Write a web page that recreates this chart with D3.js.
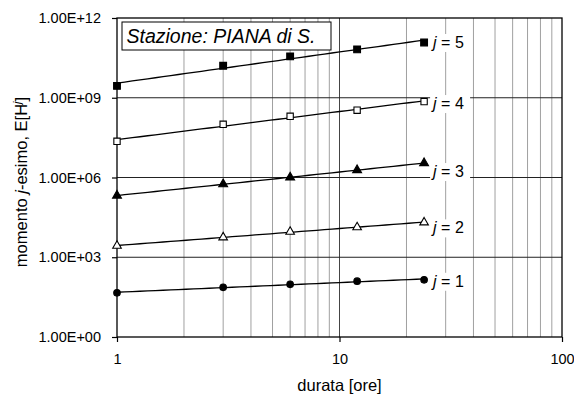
<!DOCTYPE html>
<html><head><meta charset="utf-8">
<script src="https://cdn.jsdelivr.net/npm/d3@7"></script>
<style>body{margin:0;background:#fff}svg{display:block;font-family:"Liberation Sans",Arial,sans-serif}</style>
</head><body><svg id="c" width="574" height="399"></svg>
<script>
// durations (hours)
const durations = [1, 3, 6, 12, 24];
// j-th order moments of rainfall height
const moment1 = [46, 74, 96, 126, 142];
const moment2 = [2700, 5600, 9100, 13500, 20500];
const moment3 = [2.1e5, 5.6e5, 1.0e6, 1.9e6, 3.5e6];
const moment4 = [2.3e7, 1.0e8, 2.0e8, 3.4e8, 7.2e8];
const moment5 = [2.8e9, 1.6e10, 3.6e10, 6.6e10, 1.2e11];
const orders = [1, 2, 3, 4, 5];
const yTickLabels = ["1.00E+00", "1.00E+03", "1.00E+06", "1.00E+09", "1.00E+12"];
const xTickLabels = ["1", "10", "100"];

// baseline shift of each order label relative to its last point (px)
const labelShift = {1: 7, 2: 11, 3: 14, 4: 7.5, 5: 5.5};

const FONT = "Liberation Sans, Arial, sans-serif";
const series = [
  {j: 1, v: moment1, shape: d3.symbolCircle, size: 34, fill: "#000"},
  {j: 2, v: moment2, shape: d3.symbolTriangle, size: 32, fill: "#fff"},
  {j: 3, v: moment3, shape: d3.symbolTriangle, size: 34, fill: "#000"},
  {j: 4, v: moment4, shape: d3.symbolSquare, size: 40, fill: "#fff"},
  {j: 5, v: moment5, shape: d3.symbolSquare, size: 46, fill: "#000"}
];

const svg = d3.select("#c");
const L = 117, R = 562, T = 18, B = 337;
const x = d3.scaleLog().domain([1, 100]).range([L, R]);
const y = d3.scaleLog().domain([1, 1e12]).range([B, T]);

// vertical grid: minor lines in grey, decade line darker
const minor = [];
for (let d = 1; d < 100; d *= 10) for (let k = 2; k <= 9; k++) minor.push(d * k);
svg.append("g").selectAll("line").data(minor).join("line")
  .attr("x1", d => x(d)).attr("x2", d => x(d)).attr("y1", T).attr("y2", B)
  .attr("stroke", "#a0a0a0").attr("stroke-width", 1);
svg.append("line").attr("x1", x(10)).attr("x2", x(10)).attr("y1", T).attr("y2", B)
  .attr("stroke", "#444").attr("stroke-width", 1);

// horizontal grid at the labelled decades
const yTicks = yTickLabels.map(Number);
svg.append("g").selectAll("line").data(yTicks.slice(1, -1)).join("line")
  .attr("x1", L).attr("x2", R).attr("y1", d => y(d)).attr("y2", d => y(d))
  .attr("stroke", "#222").attr("stroke-width", 1);

// plot frame
svg.append("rect").attr("x", L).attr("y", T).attr("width", R - L).attr("height", B - T)
  .attr("fill", "none").attr("stroke", "#000").attr("stroke-width", 1.3);

// axes
const yAxis = d3.axisLeft(y).tickValues(yTicks).tickFormat((d, i) => yTickLabels[i]).tickSizeOuter(0).tickSize(5).tickPadding(11);
const gy = svg.append("g").attr("transform", `translate(${L},0)`).call(yAxis);
const xTicks = xTickLabels.map(Number);
const xAxis = d3.axisBottom(x).tickValues(xTicks).tickFormat((d, i) => xTickLabels[i]).tickSizeOuter(0).tickSize(5).tickPadding(12);
const gx = svg.append("g").attr("transform", `translate(0,${B})`).call(xAxis);
[gx, gy].forEach(g => {
  g.attr("font-family", FONT).attr("font-size", 14.5);
  g.select(".domain").remove();
  g.selectAll("line").attr("stroke", "#000").attr("stroke-width", 1.2);
  g.selectAll("text").attr("fill", "#000");
});

// power-law trend lines fitted in log-log space
function fit(xs, ys) {
  const lx = xs.map(Math.log10), ly = ys.map(Math.log10);
  const mx = d3.mean(lx), my = d3.mean(ly);
  const b = d3.sum(lx, (v, i) => (v - mx) * (ly[i] - my)) / d3.sum(lx, v => (v - mx) ** 2);
  const a = my - b * mx;
  return t => Math.pow(10, a + b * Math.log10(t));
}
const line = d3.line().x(d => x(d[0])).y(d => y(d[1]));
const first = durations[0], last = durations[durations.length - 1];

// label backgrounds first, so lines and markers stay on top
const labelLayer = svg.append("g");
series.forEach(s => {
  const f = fit(durations, s.v);
  const pts = d3.range(0, 41).map(i => {
    const t = Math.pow(10, Math.log10(first) + i / 40 * (Math.log10(last) - Math.log10(first)));
    return [t, f(t)];
  });
  svg.append("path").datum(pts).attr("d", line).attr("fill", "none").attr("stroke", "#000").attr("stroke-width", 1.3);
  const sym = d3.symbol().type(s.shape).size(s.size);
  svg.append("g").selectAll("path").data(durations).join("path")
    .attr("transform", (d, i) => `translate(${x(d)},${y(s.v[i])})`)
    .attr("d", sym).attr("fill", s.fill).attr("stroke", "#000").attr("stroke-width", 1.1);

  // order label on a white background
  const lx = x(last) + 9, ly = y(s.v[s.v.length - 1]) + labelShift[s.j];
  labelLayer.append("rect").attr("x", lx - 3).attr("y", ly - 14).attr("width", 40).attr("height", 18).attr("fill", "#fff");
  const t = labelLayer.append("text").attr("x", lx).attr("y", ly).attr("font-size", 16);
  t.append("tspan").attr("font-style", "italic").text("j");
  t.append("tspan").text(" = " + s.j);
});

// station box
svg.append("rect").attr("x", 122).attr("y", 22).attr("width", 209).attr("height", 28)
  .attr("fill", "#fff").attr("stroke", "#000").attr("stroke-width", 1);
svg.append("text").attr("x", 126.5).attr("y", 43).attr("font-size", 19.5)
  .attr("font-style", "italic").text("Stazione: PIANA di S.");

// axis titles
svg.append("text").attr("x", (L + R) / 2).attr("y", 391).attr("text-anchor", "middle")
  .attr("font-size", 16.5).text("durata [ore]");
const yt = svg.append("text").attr("transform", `translate(27,182) rotate(-90)`)
  .attr("text-anchor", "middle").attr("font-size", 16.5);
yt.append("tspan").text("momento ");
yt.append("tspan").attr("font-style", "italic").text("j");
yt.append("tspan").text("-esimo, E[H");
yt.append("tspan").attr("font-style", "italic").attr("font-size", 11).attr("dy", -6).text("j");
yt.append("tspan").attr("dy", 6).text("]");
</script></body></html>
